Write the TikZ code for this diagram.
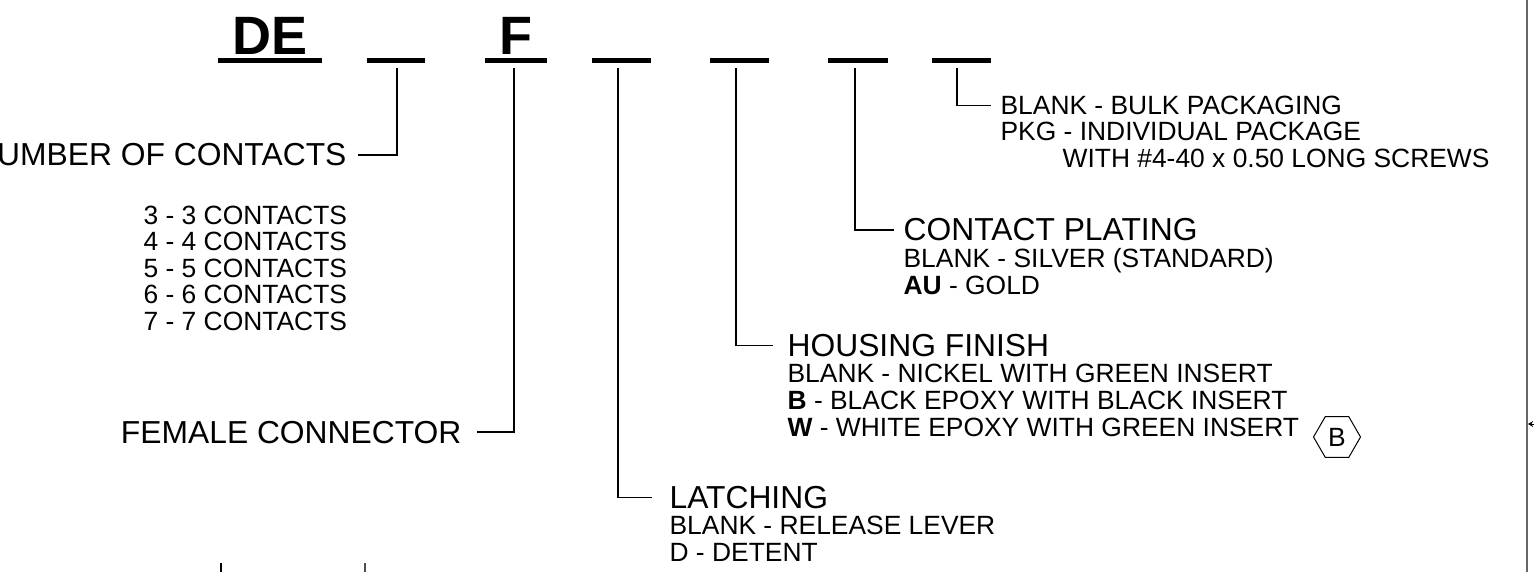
\documentclass[tikz,border=0pt]{standalone}
\usepackage{fontspec}
\setmainfont{Liberation Sans}
\usetikzlibrary{shapes.geometric,arrows.meta}
\begin{document}
\begin{tikzpicture}[x=0.5pt, y=-0.5pt, line width=0.6pt,
  big node/.style={inner sep=0pt, anchor=base, font=\fontsize{27}{32}\selectfont\bfseries},
  bar node/.style={fill=black, inner sep=0pt, minimum height=2.5pt},
  title node/.style={inner sep=0pt, anchor=base west, font=\fontsize{15.9}{19}\selectfont},
  item node/.style={inner sep=0pt, anchor=base west, font=\fontsize{13.2}{16}\selectfont},
  rev node/.style={draw, regular polygon, regular polygon sides=6, minimum size=23.5pt, inner sep=0pt, line width=0.5pt, font=\fontsize{13.2}{16}\selectfont},
  leader/.style={shorten <=2pt, shorten >=#1}, leader/.default=7pt]
\useasboundingbox (0,0) rectangle (1534,572);
% part number
\node[big node] (de) at (270,55) {DE};
\node[big node] (f) at (516,55) {F};
\node[bar node, minimum width=52pt] (s1) at (270,61) {};
\node[bar node, minimum width=29pt] (s2) at (396,61) {};
\node[bar node, minimum width=31pt] (s3) at (516,61) {};
\node[bar node, minimum width=29.5pt] (s4) at (621.5,61) {};
\node[bar node, minimum width=29.5pt] (s5) at (739.5,61) {};
\node[bar node, minimum width=30pt] (s6) at (858,61) {};
\node[bar node, minimum width=29.5pt] (s7) at (961.5,61) {};
% number of contacts
\node[title node, anchor=base east] (noc) at (347,166) {NUMBER OF CONTACTS};
\node[item node] (c3) at (143,224) {3 - 3 CONTACTS};
\node[item node] (c4) at (143,250.5) {4 - 4 CONTACTS};
\node[item node] (c5) at (143,277) {5 - 5 CONTACTS};
\node[item node] (c6) at (143,303.5) {6 - 6 CONTACTS};
\node[item node] (c7) at (143,330) {7 - 7 CONTACTS};
\node[title node, anchor=base east] (fem) at (462,443) {FEMALE CONNECTOR};
% packaging
\node[item node] (pk1) at (1000,114.5) {BLANK - BULK PACKAGING};
\node[item node] (pk2) at (1000,141) {PKG - INDIVIDUAL PACKAGE};
\node[item node] (pk3) at (1062,167.5) {WITH \#4-40 x 0.50 LONG SCREWS};
% plating
\node[title node] (cp) at (903,241) {CONTACT PLATING};
\node[item node] (cp1) at (903,267.5) {BLANK - SILVER (STANDARD)};
\node[item node] (cp2) at (903,294) {\textbf{AU} - GOLD};
% housing
\node[title node] (hf) at (787,356.5) {HOUSING FINISH};
\node[item node] (hf1) at (787,382.5) {BLANK - NICKEL WITH GREEN INSERT};
\node[item node] (hf2) at (787,409) {\textbf{B} - BLACK EPOXY WITH BLACK INSERT};
\node[item node] (hf3) at (787,436) {\textbf{W} - WHITE EPOXY WITH GREEN INSERT};
\node[rev node] (rev) at (1337,437) {B};
% latching
\node[title node] (lat) at (669,508.5) {LATCHING};
\node[item node] (lat1) at (669,534.5) {BLANK - RELEASE LEVER};
\node[item node] (lat2) at (669,561) {D - DETENT};
% leaders
\draw[leader=5.5pt] ([xshift=0.5pt]s2.south) |- (noc.east);
\draw[leader=7.5pt] ([xshift=-1pt]s3.south) |- (fem.east);
\draw[leader=8.5pt] ([xshift=-1.75pt]s4.south) |- (lat.west);
\draw[leader=7pt] ([xshift=-1.75pt]s5.south) |- (hf.west);
\draw[leader=4.5pt] ([xshift=-1.5pt]s6.south) |- (cp.west);
\draw[leader=4.5pt] ([xshift=-2.25pt]s7.south) |- (pk1.west);
% border of the sheet
\coordinate (rt) at (1527,0);
\coordinate (rb) at (1527,572);
\draw[line width=1.2pt, black!60] (rt) -- (rb);
\coordinate (ar) at (1534,424);
\coordinate (al) at (1528,424);
\draw[line width=0.4pt, -{Stealth[length=2.5pt, width=3pt]}] (ar) -- (al);
\coordinate (t1) at (221,563);
\coordinate (t2) at (365,563);
\draw[line width=0.7pt] (t1) -- (221,572);
\draw[line width=0.7pt, black!70] (t2) -- (365,572);
\end{tikzpicture}
\end{document}
